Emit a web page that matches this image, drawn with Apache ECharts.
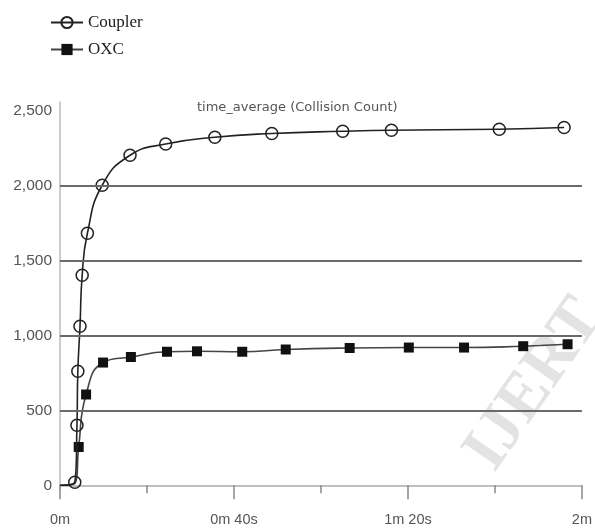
<!DOCTYPE html>
<html>
<head>
<meta charset="utf-8">
<script src="https://cdn.jsdelivr.net/npm/echarts@6/dist/echarts.min.js"></script>
<style>html,body{margin:0;padding:0;background:#fff}#c{width:595px;height:531px}</style>
</head>
<body>
<div id="c"></div>
<script>
// Time in seconds
const couplerTime  = [0, 3.4, 3.9, 4.1, 4.6, 5.1, 6.3, 9.7, 16.1, 24.3, 35.6, 48.7, 65.0, 76.2, 101.0, 115.9];
const couplerValue = [0, 20, 400, 760, 1060, 1400, 1680, 2000, 2200, 2275, 2320, 2345, 2360, 2367, 2373, 2385];
const oxcTime  = [0, 3.5, 4.3, 6.0, 9.9, 16.3, 24.6, 31.5, 41.9, 51.9, 66.6, 80.2, 92.9, 106.5, 116.7];
const oxcValue = [0, 15, 255, 605, 818, 855, 890, 893, 890, 905, 915, 918, 918, 927, 940];
const xTicks = [0, 40, 80, 120];
const xTickLabels = ['0m', '0m 40s', '1m 20s', '2m'];
const gridValues = [500, 1000, 1500, 2000];

function pts(ts, vs, unmarked) {
  return ts.map((t, i) => i < unmarked ? { value: [t, vs[i]], symbol: 'none' } : [t, vs[i]]);
}

const chart = echarts.init(document.getElementById('c'), null, { renderer: 'canvas' });
chart.setOption({
  animation: false,
  backgroundColor: '#fff',
  title: {
    text: 'time_average (Collision Count)',
    left: 192, top: 96,
    textStyle: { fontFamily: 'DejaVu Sans', fontSize: 13, fontWeight: 'normal', color: '#555' }
  },
  legend: {
    orient: 'vertical', left: 45, top: 9,
    itemWidth: 32, itemHeight: 14, itemGap: 10,
    textStyle: { fontFamily: 'Liberation Serif', fontSize: 17, color: '#222' },
    data: ['Coupler', 'OXC']
  },
  grid: { left: 60, right: 12, top: 102, bottom: 42 },
  xAxis: {
    type: 'value', min: 0, max: 120, interval: 40,
    axisLine: { lineStyle: { color: '#aaa', width: 1.5 } },
    axisTick: { show: true, length: 14, lineStyle: { color: '#888', width: 1.5 } },
    minorTick: { show: true, splitNumber: 2, length: 8, lineStyle: { color: '#888', width: 1.5 } },
    splitLine: { show: false },
    axisLabel: {
      margin: 23, fontFamily: 'Liberation Sans', fontSize: 14.5, color: '#555',
      formatter: v => { const i = xTicks.indexOf(v); return i >= 0 ? xTickLabels[i] : ''; }
    }
  },
  yAxis: {
    type: 'value', min: -25, max: 2555,
    axisLine: { show: true, lineStyle: { color: '#bbb', width: 1.5 } },
    axisTick: { show: false },
    splitLine: { show: false },
    axisLabel: {
      margin: 8, fontFamily: 'Liberation Sans', fontSize: 15.5, color: '#555',
      formatter: v => (v >= 0 && v % 500 === 0) ? v.toLocaleString('en-US') : ''
    }
  },
  series: [
    {
      name: 'Coupler', type: 'line', smooth: 0.5,
      symbol: 'circle', symbolSize: 12,
      lineStyle: { color: '#222', width: 1.6 },
      itemStyle: { color: 'rgba(255,255,255,0)', borderColor: '#222', borderWidth: 1.5 },
      data: pts(couplerTime, couplerValue, 1),
      z: 3
    },
    {
      name: 'OXC', type: 'line', smooth: 0.5,
      symbol: 'rect', symbolSize: 10,
      lineStyle: { color: '#444', width: 1.6 },
      itemStyle: { color: '#111', borderColor: '#111', borderWidth: 0 },
      data: pts(oxcTime, oxcValue, 2),
      markLine: {
        silent: true, symbol: 'none', label: { show: false },
        lineStyle: { color: '#6a6a6a', width: 1.8, type: 'solid' },
        data: gridValues.map(v => ({ yAxis: v }))
      },
      z: 2
    }
  ],
  graphic: [{
    type: 'text', x: 535, y: 385, rotation: Math.PI * 55 / 180,
    style: {
      text: 'IJERT', fill: 'rgba(200,200,200,0.5)',
      font: 'bold 66px "Liberation Serif"', align: 'center', verticalAlign: 'middle'
    },
    z: 0
  }]
});
</script>
</body>
</html>
